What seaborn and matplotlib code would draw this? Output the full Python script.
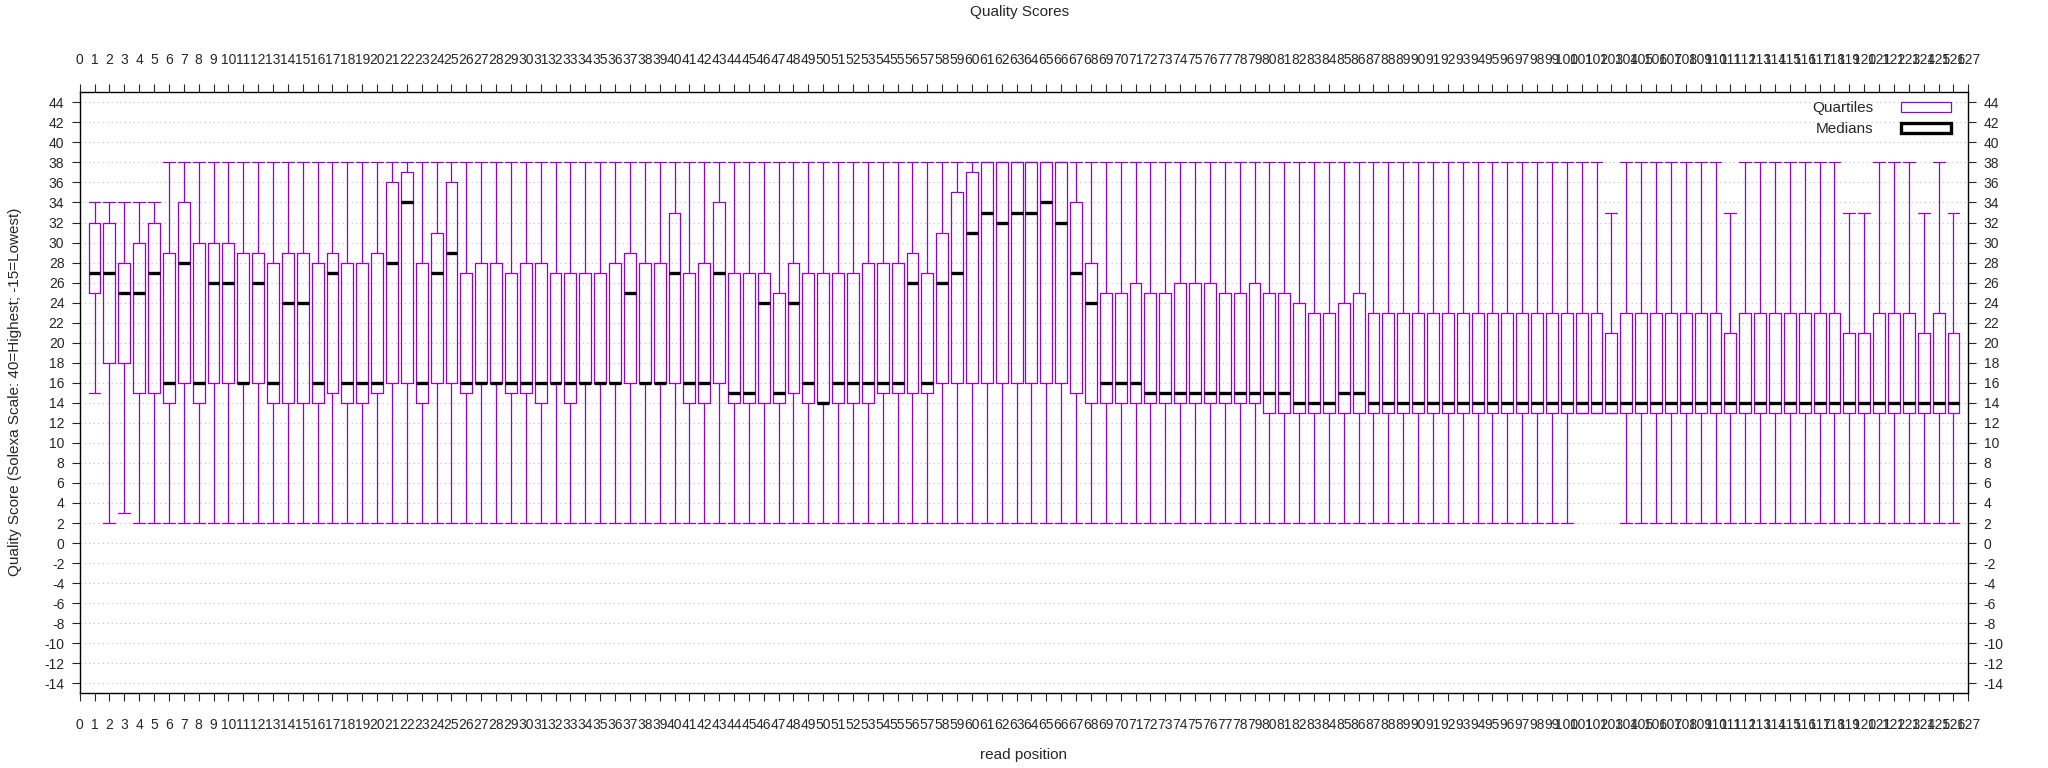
import numpy as np
import matplotlib
matplotlib.use('Agg')
import matplotlib.pyplot as plt
import seaborn as sns
from matplotlib.patches import Patch

# read positions 1..126 and the five box statistics
positions = list(range(1, 127))

q3 = [32, 32, 28, 30, 32, 29, 34, 30, 30, 30,
      29, 29, 28, 29, 29, 28, 29, 28, 28, 29,
      36, 37, 28, 31, 36, 27, 28, 28, 27, 28,
      28, 27, 27, 27, 27, 28, 29, 28, 28, 33,
      27, 28, 34, 27, 27, 27, 25, 28, 27, 27,
      27, 27, 28, 28, 28, 29, 27, 31, 35, 37,
      38, 38, 38, 38, 38, 38, 34, 28, 25, 25,
      26, 25, 25, 26, 26, 26, 25, 25, 26, 25,
      25, 24, 23, 23, 24, 25, 23, 23, 23, 23,
      23, 23, 23, 23, 23, 23, 23, 23, 23, 23,
      23, 23, 21, 23, 23, 23, 23, 23, 23, 23,
      21, 23, 23, 23, 23, 23, 23, 23, 21, 21,
      23, 23, 23, 21, 23, 21]

q1 = [25, 18, 18, 15, 15, 14, 16, 14, 16, 16,
      16, 16, 14, 14, 14, 14, 15, 14, 14, 15,
      16, 16, 14, 16, 16, 15, 16, 16, 15, 15,
      14, 16, 14, 16, 16, 16, 16, 16, 16, 16,
      14, 14, 16, 14, 14, 14, 14, 15, 14, 14,
      14, 14, 14, 15, 15, 15, 15, 16, 16, 16,
      16, 16, 16, 16, 16, 16, 15, 14, 14, 14,
      14, 14, 14, 14, 14, 14, 14, 14, 14, 13,
      13, 13, 13, 13, 13, 13, 13, 13, 13, 13,
      13, 13, 13, 13, 13, 13, 13, 13, 13, 13,
      13, 13, 13, 13, 13, 13, 13, 13, 13, 13,
      13, 13, 13, 13, 13, 13, 13, 13, 13, 13,
      13, 13, 13, 13, 13, 13]

medians = [27, 27, 25, 25, 27, 16, 28, 16, 26, 26,
           16, 26, 16, 24, 24, 16, 27, 16, 16, 16,
           28, 34, 16, 27, 29, 16, 16, 16, 16, 16,
           16, 16, 16, 16, 16, 16, 25, 16, 16, 27,
           16, 16, 27, 15, 15, 24, 15, 24, 16, 14,
           16, 16, 16, 16, 16, 26, 16, 26, 27, 31,
           33, 32, 33, 33, 34, 32, 27, 24, 16, 16,
           16, 15, 15, 15, 15, 15, 15, 15, 15, 15,
           15, 14, 14, 14, 15, 15, 14, 14, 14, 14,
           14, 14, 14, 14, 14, 14, 14, 14, 14, 14,
           14, 14, 14, 14, 14, 14, 14, 14, 14, 14,
           14, 14, 14, 14, 14, 14, 14, 14, 14, 14,
           14, 14, 14, 14, 14, 14]

whisker_hi = [34, 34, 34, 34, 34, 38, 38, 38, 38, 38,
              38, 38, 38, 38, 38, 38, 38, 38, 38, 38,
              38, 38, 38, 38, 38, 38, 38, 38, 38, 38,
              38, 38, 38, 38, 38, 38, 38, 38, 38, 38,
              38, 38, 38, 38, 38, 38, 38, 38, 38, 38,
              38, 38, 38, 38, 38, 38, 38, 38, 38, 38,
              38, 38, 38, 38, 38, 38, 38, 38, 38, 38,
              38, 38, 38, 38, 38, 38, 38, 38, 38, 38,
              38, 38, 38, 38, 38, 38, 38, 38, 38, 38,
              38, 38, 38, 38, 38, 38, 38, 38, 38, 38,
              38, 38, 33, 38, 38, 38, 38, 38, 38, 38,
              33, 38, 38, 38, 38, 38, 38, 38, 33, 33,
              38, 38, 38, 33, 38, 33]

whisker_lo = [15, 2, 3, 2, 2, 2, 2, 2, 2, 2,
              2, 2, 2, 2, 2, 2, 2, 2, 2, 2,
              2, 2, 2, 2, 2, 2, 2, 2, 2, 2,
              2, 2, 2, 2, 2, 2, 2, 2, 2, 2,
              2, 2, 2, 2, 2, 2, 2, 2, 2, 2,
              2, 2, 2, 2, 2, 2, 2, 2, 2, 2,
              2, 2, 2, 2, 2, 2, 2, 2, 2, 2,
              2, 2, 2, 2, 2, 2, 2, 2, 2, 2,
              2, 2, 2, 2, 2, 2, 2, 2, 2, 2,
              2, 2, 2, 2, 2, 2, 2, 2, 2, 2,
              13, 13, 13, 2, 2, 2, 2, 2, 2, 2,
              2, 2, 2, 2, 2, 2, 2, 2, 2, 2,
              2, 2, 2, 2, 2, 2]

xticks = list(range(0, 128))
yticks = list(range(-14, 45, 2))

sns.set_style('ticks')
plt.rcParams['font.family'] = ['Liberation Sans', 'DejaVu Sans']

violet = '#9400D3'

stats = [dict(med=m, q1=a, q3=b, whislo=lo, whishi=hi, fliers=[])
         for m, a, b, lo, hi in zip(medians, q1, q3, whisker_lo, whisker_hi)]

fig = plt.figure(figsize=(20.48, 7.68), dpi=100)
ax = fig.add_axes([0.0389, 0.0973, 0.9222, 0.7825])

ax.bxp(stats, positions=positions, widths=0.8, capwidths=0.8,
       showfliers=False, manage_ticks=False,
       boxprops=dict(color=violet, linewidth=0.9),
       whiskerprops=dict(color=violet, linewidth=0.9),
       capprops=dict(color=violet, linewidth=0.9),
       medianprops=dict(color='black', linewidth=2.4, solid_capstyle='butt'))

ax.set_xlim(0, 127)
ax.set_ylim(-15, 45)
ax.set_xticks(xticks)
ax.set_xticklabels([str(t) for t in xticks])
ax.set_yticks(yticks)
ax.set_yticklabels([str(t) for t in yticks])

ax.set_axisbelow(True)
ax.yaxis.grid(True, linestyle=(0, (1, 3)), color='#bdbdbd', linewidth=0.8)
ax.xaxis.grid(False)

ax.tick_params(axis='x', which='both', top=True, labeltop=True, bottom=True,
               direction='out', length=6, width=0.8, pad=12, labelsize=10)
ax.tick_params(axis='y', which='both', left=True, right=True, labelright=True,
               direction='out', length=6, width=0.8, pad=5, labelsize=10)
for s in ax.spines.values():
    s.set_visible(True)
    s.set_color('black')
    s.set_linewidth(1.0)

fig.text(0.498, 0.984, 'Quality Scores', ha='center', va='center', fontsize=11)
fig.text(0.5, 0.017, 'read position', ha='center', va='center', fontsize=11)
fig.text(0.0075, 0.49, 'Quality Score (Solexa Scale: 40=Highest; -15=Lowest)',
         ha='center', va='center', rotation=90, fontsize=11)

handles = [Patch(facecolor='white', edgecolor=violet, linewidth=0.9),
           Patch(facecolor='white', edgecolor='black', linewidth=2.4)]
fig.legend(handles, ['Quartiles', 'Medians'], loc='upper right',
           bbox_to_anchor=(0.9526, 0.868), frameon=False, markerfirst=False,
           handlelength=3.3, handleheight=0.7, handletextpad=1.8,
           labelspacing=0.45, borderpad=0, borderaxespad=0, fontsize=11)

fig.savefig('out.png', dpi=100)
